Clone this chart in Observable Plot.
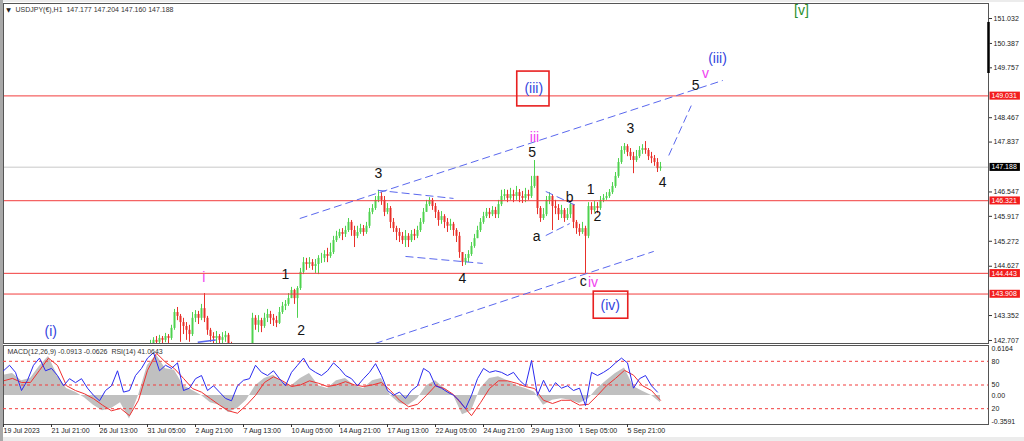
<!DOCTYPE html>
<html><head><meta charset="utf-8">
<script src="https://cdn.jsdelivr.net/npm/d3@7"></script>
<script src="https://cdn.jsdelivr.net/npm/@observablehq/plot@0.6"></script>
<style>
html,body{margin:0;padding:0;background:#e6e6e6;}
#wrap{position:relative;width:1024px;height:441px;overflow:hidden;background:#ececec;}
#leftstrip{position:absolute;left:0;top:0;width:3px;height:441px;background:#a8a8a8;}
#inner{position:absolute;left:3px;top:2px;width:1021px;height:435px;background:#fff;}
#main{position:absolute;left:0;top:0;}
#ind1{position:absolute;left:0;top:344px;}
#ind2{position:absolute;left:0;top:344px;}
</style></head><body>
<div id="wrap"><div id="leftstrip"></div><div id="inner"></div><div id="main"></div><div id="ind1"></div><div id="ind2"></div></div>
<script>
// ---------------- DATA ----------------
const chartTitle = "USDJPY(€),H1  147.177 147.204 147.160 147.188";
const indicatorTitle = "MACD(12,26,9) -0.0913 -0.0626  RSI(14) 41.0643";

// candles: hourly bar index of first candle, bars per candle
const startBar = 196, barStep = 4;
const firstOpen = 142.50;
const closes = [
 142.58,142.71,142.66,142.76,142.71,142.81,142.76,143.02,143.43,143.33,
 143.17,143.07,142.97,142.86,143.28,143.38,143.28,143.53,143.28,142.97,
 142.81,142.76,142.81,142.71,142.78,142.84,142.60,142.40,142.24,142.14,
 141.98,142.06,142.19,142.40,143.28,143.10,143.22,143.07,143.28,143.38,
 143.28,143.22,143.15,143.43,143.59,143.64,143.79,144.00,143.79,144.05,
 144.47,144.72,144.67,144.72,144.62,144.67,144.83,144.83,144.93,144.88,
 144.98,145.29,145.40,145.50,145.45,145.55,145.76,145.55,145.40,145.50,
 145.60,145.50,145.66,146.02,146.12,146.33,146.43,146.33,146.02,146.12,
 145.76,145.60,145.50,145.40,145.29,145.40,145.29,145.45,145.40,145.55,
 145.76,146.02,146.22,146.33,146.17,146.02,145.81,145.91,145.76,145.66,
 145.71,145.55,145.40,144.98,144.72,144.83,144.93,145.14,145.34,145.55,
 145.76,145.91,146.02,145.96,146.07,145.96,146.22,146.43,146.48,146.38,
 146.48,146.43,146.53,146.43,146.38,146.48,146.43,146.69,146.95,146.12,
 145.86,145.96,146.33,146.43,146.17,146.12,145.96,146.07,145.86,145.96,
 146.22,145.76,145.60,145.50,145.60,145.40,146.17,146.07,146.17,146.12,
 146.33,146.38,146.43,146.53,146.69,146.95,147.31,147.62,147.72,147.57,
 147.46,147.36,147.46,147.62,147.67,147.62,147.46,147.41,147.31,147.15,
 147.19];
const highs = [
 142.71,142.78,142.81,142.84,142.81,142.89,142.86,143.10,143.51,143.56,
 143.38,143.28,143.17,143.10,143.43,143.48,143.46,143.64,143.92,143.33,
 143.02,142.91,142.94,142.86,142.91,142.94,142.89,142.66,142.45,142.32,
 142.19,142.24,142.35,142.55,143.41,143.35,143.35,143.28,143.41,143.51,
 143.46,143.38,143.33,143.56,143.69,143.74,143.92,144.08,144.03,144.10,
 144.57,144.85,144.83,144.85,144.80,144.80,144.90,144.96,145.03,145.09,
 145.22,145.40,145.53,145.58,145.60,145.66,145.86,145.81,145.66,145.66,
 145.71,145.68,145.76,146.12,146.22,146.43,146.59,146.53,146.43,146.25,
 146.17,145.86,145.66,145.60,145.50,145.55,145.47,145.55,145.58,145.66,
 145.86,146.12,146.33,146.40,146.38,146.25,146.07,146.04,145.96,145.86,
 145.84,145.76,145.60,145.50,144.98,144.93,145.03,145.24,145.45,145.66,
 145.86,146.02,146.12,146.12,146.17,146.15,146.33,146.59,146.61,146.59,
 146.64,146.59,146.69,146.61,146.56,146.64,146.59,146.95,147.36,146.95,
 146.17,146.12,146.43,146.53,146.48,146.33,146.22,146.20,146.12,146.12,
 146.27,146.22,145.81,145.71,145.76,145.66,146.27,146.27,146.30,146.27,
 146.43,146.48,146.53,146.61,146.79,147.05,147.41,147.72,147.80,147.77,
 147.67,147.57,147.62,147.72,147.77,147.85,147.67,147.57,147.49,147.41,
 147.31];
const lows = [
 142.40,142.55,142.50,142.60,142.55,142.65,142.58,142.71,142.97,143.22,
 142.66,142.86,142.71,142.66,142.81,143.17,143.12,143.22,143.17,142.84,
 142.66,142.55,142.60,142.50,142.58,142.66,142.45,142.24,142.06,141.93,
 141.80,141.88,141.98,142.14,142.32,142.97,142.91,142.91,143.02,143.17,
 143.12,143.07,143.04,143.12,143.38,143.48,143.59,143.79,143.64,143.28,
 144.00,144.41,144.52,144.57,144.52,144.44,144.41,144.70,144.72,144.72,
 144.83,144.93,145.24,145.34,145.29,145.37,145.50,145.40,145.11,145.34,
 145.45,145.40,145.45,145.60,145.96,146.07,146.27,146.20,145.91,145.96,
 145.60,145.50,145.29,145.24,145.19,145.11,145.11,145.24,145.29,145.34,
 145.50,145.71,146.02,146.17,146.07,145.86,145.66,145.71,145.60,145.50,
 145.55,145.40,145.24,144.83,144.62,144.65,144.72,144.88,145.09,145.34,
 145.50,145.71,145.86,145.86,145.91,145.86,145.86,146.17,146.33,146.27,
 146.33,146.27,146.33,146.27,146.25,146.27,146.33,146.38,146.64,145.96,
 145.76,145.81,145.91,146.22,145.55,145.96,145.81,145.86,145.76,145.81,
 145.86,145.60,145.45,145.40,145.45,144.44,145.34,145.96,146.02,145.99,
 146.07,146.27,146.33,146.38,146.48,146.64,146.90,147.26,147.52,147.46,
 147.36,147.02,147.31,147.41,147.52,147.52,147.36,147.28,147.21,147.05,
 147.08];

// indicator samples
const macdStep = 12;
const macdMain = [
 0.25,0.27,0.18,0.21,0.36,0.48,0.25,0.085,0.04,-0.03,
 -0.12,-0.19,-0.16,-0.09,-0.29,0.00,0.37,0.50,0.33,0.31,
 0.12,0.06,0.00,-0.09,-0.12,-0.21,-0.16,-0.06,0.12,0.21,
 0.25,0.16,0.12,0.21,0.27,0.12,0.085,0.18,0.21,0.12,
 0.085,0.18,0.21,0.00,-0.10,-0.12,-0.04,0.12,0.18,0.085,
 0.00,-0.24,-0.19,0.085,0.21,0.23,0.18,0.12,0.085,0.04,
 -0.12,-0.06,-0.04,-0.06,-0.10,-0.04,0.085,0.18,0.27,0.34,
 0.11,0.05,0.00,-0.09];
const macdSignal = [
 0.18,0.21,0.16,0.16,0.31,0.46,0.37,0.12,0.06,0.02,
 -0.04,-0.12,-0.19,-0.16,-0.25,-0.06,0.31,0.52,0.41,0.33,
 0.21,0.085,0.04,-0.04,-0.12,-0.19,-0.22,-0.12,0.00,0.16,
 0.23,0.18,0.11,0.13,0.18,0.15,0.11,0.13,0.17,0.13,
 0.11,0.13,0.16,0.06,-0.06,-0.14,-0.11,0.00,0.12,0.085,
 0.01,-0.12,-0.25,-0.09,0.085,0.18,0.18,0.15,0.11,0.085,
 -0.06,-0.10,-0.06,-0.06,-0.12,-0.11,0.00,0.12,0.21,0.31,
 0.25,0.12,0.06,-0.06];
const rsiStep = 8;
const rsiValues = [
 68,75,66,43,56,75,84,68,71,62, 49,58,53,58,46,37,30,43,49,68,
 41,43,62,71,84,91,68,75,71,78, 43,46,58,62,43,49,41,33,30,49,
 56,58,75,66,62,68,58,49,66,75, 84,71,66,62,68,78,71,62,58,49,
 58,66,77,62,43,37,41,33,43,49, 71,66,49,46,41,37,30,20,37,58,
 71,66,68,66,62,66,56,49,81,37, 56,41,53,46,49,43,46,24,66,62,
 66,71,78,84,78,46,58,62,49,41];
const macdRange = [-0.3591, 0.6164];
const rsiLevels = [80, 50, 20];

// axes
const timeTickBars = [0,64,128,192,256,320,384,448,512,576,640,704,768,832];
const timeTickLabels = ["19 Jul 2023","21 Jul 21:00","26 Jul 13:00","31 Jul 05:00","2 Aug 21:00","7 Aug 13:00","10 Aug 05:00","14 Aug 21:00","17 Aug 13:00","22 Aug 05:00","24 Aug 21:00","29 Aug 13:00","1 Sep 05:00","5 Sep 21:00"];
const priceTicks = [151.032,150.387,149.757,148.467,147.837,146.547,145.917,145.272,144.627,143.352,142.707];
const redLevels = [149.031, 146.321, 144.443, 143.908];
const lastPrice = 147.188;
const shiftMarker = [150.93, 149.61];

// wave annotations (bar, price)
const blackLabels = [
 {text:"1",bar:376,price:144.41},{text:"2",bar:397,price:142.97},
 {text:"3",bar:500,price:147.02},{text:"4",bar:612,price:144.31},
 {text:"5",bar:705,price:147.57},{text:"a",bar:711,price:145.40},
 {text:"b",bar:755,price:146.40},{text:"c",bar:773,price:144.23},
 {text:"1",bar:783,price:146.61},{text:"2",bar:792,price:145.91},
 {text:"3",bar:836,price:148.19},{text:"4",bar:879,price:146.79},
 {text:"5",bar:923,price:149.30}];
const blueLabels = [
 {text:"(i)",bar:63,price:142.94},{text:"(iii)",bar:952,price:150.00},
 {text:"(iii)",bar:707,price:149.22},{text:"(iv)",bar:809,price:143.61}];
const magentaLabels = [
 {text:"i",bar:267,price:144.34},{text:"iii",bar:708,price:147.96},
 {text:"iv",bar:786,price:144.21},{text:"v",bar:936,price:149.62}];
const greenLabels = [{text:"[v]",bar:1064,price:151.24}];
const labelBoxes = [
 {x1:685,x2:728,y1:149.66,y2:148.76},
 {x1:787,x2:833,y1:143.97,y2:143.27}];
const dashedLines = [
 {x1:395,y1:145.86,x2:959,y2:149.43},
 {x1:480,y1:142.53,x2:867,y2:145.01},
 {x1:499,y1:146.59,x2:600,y2:146.38},
 {x1:536,y1:144.88,x2:639,y2:144.70},
 {x1:723,y1:146.56,x2:763,y2:146.20},
 {x1:723,y1:145.42,x2:755,y2:145.73},
 {x1:887,y1:147.49,x2:917,y2:148.78}];
const solidLines = [{x1:259,y1:142.66,x2:283,y2:142.72}];

// ---------------- BUILD ----------------
const FONT = "Liberation Sans, Arial, sans-serif";
const UP = "#4fd24f", DOWN = "#e8302a", BLUE = "#3344dd", MAG = "#f040f0", LINEBLUE = "#5a68ee";
const xDomain = [0, 1313.33];
const priceDomain = [142.629, 151.42];

const candles = closes.map((c, i) => ({
  bar: startBar + i * barStep,
  open: i ? closes[i - 1] : firstOpen,
  high: highs[i], low: lows[i], close: c
}));
const macd = macdMain.map((m, i) => ({bar: i * macdStep, main: m, signal: macdSignal[i]}));
const rsi = rsiValues.map((v, i) => ({bar: i * rsiStep, rsi: v}));

const baseStyle = {background: "transparent", fontFamily: FONT, fontSize: "7px", overflow: "visible", color: "#222"};

const main = Plot.plot({
  width: 1024, height: 345,
  marginLeft: 3, marginRight: 36, marginTop: 3, marginBottom: 2,
  style: baseStyle,
  x: {domain: xDomain, axis: null},
  y: {domain: priceDomain, axis: null},
  marks: [
    Plot.ruleY([lastPrice], {stroke: "#c8c8c8"}),
    Plot.ruleX(candles, {filter: d => d.close >= d.open, x: "bar", y1: "low", y2: "high", stroke: UP, strokeWidth: 1, clip: true}),
    Plot.ruleX(candles, {filter: d => d.close < d.open, x: "bar", y1: "low", y2: "high", stroke: DOWN, strokeWidth: 1, clip: true}),
    Plot.ruleX(candles, {filter: d => d.close >= d.open, x: "bar", y1: "open", y2: "close", stroke: UP, strokeWidth: 2, clip: true}),
    Plot.ruleX(candles, {filter: d => d.close < d.open, x: "bar", y1: "open", y2: "close", stroke: DOWN, strokeWidth: 2, clip: true}),
    Plot.ruleY(redLevels, {stroke: "#f23c3c", strokeWidth: 1}),
    Plot.link(dashedLines, {x1: "x1", y1: "y1", x2: "x2", y2: "y2", stroke: LINEBLUE, strokeDasharray: "8,4", strokeWidth: 1, clip: true}),
    Plot.link(solidLines, {x1: "x1", y1: "y1", x2: "x2", y2: "y2", stroke: LINEBLUE, strokeWidth: 1.5, clip: true}),
    Plot.rect(labelBoxes, {x1: "x1", x2: "x2", y1: "y1", y2: "y2", fill: "none", stroke: "#e82020", strokeWidth: 1.6}),
    Plot.text(blackLabels, {x: "bar", y: "price", text: "text", fill: "#141414", fontSize: 14}),
    Plot.text(blueLabels, {x: "bar", y: "price", text: "text", fill: BLUE, fontSize: 14}),
    Plot.text(magentaLabels, {x: "bar", y: "price", text: "text", fill: MAG, fontSize: 14}),
    Plot.text(greenLabels, {x: "bar", y: "price", text: "text", fill: "#2d8f2d", fontSize: 14}),
    Plot.frame({stroke: "#555"}),
    Plot.ruleX([xDomain[1]], {y1: shiftMarker[0], y2: shiftMarker[1], stroke: "#000", strokeWidth: 2.5}),
    Plot.axisY({anchor: "right", ticks: priceTicks, tickFormat: d => d.toFixed(3), tickSize: 3, tickPadding: 2, fontSize: 7, fill: "#222", stroke: "#333", label: null}),
    Plot.text(redLevels, {y: d => d, text: d => d.toFixed(3), frameAnchor: "right", dx: 3, textAnchor: "start", lineAnchor: "middle", fill: "white", fontSize: 7}),
    Plot.text([lastPrice], {y: d => d, text: d => d.toFixed(3), frameAnchor: "right", dx: 3, textAnchor: "start", lineAnchor: "middle", fill: "#fff", fontSize: 7}),
    Plot.text(["▼"], {frameAnchor: "top-left", dx: 5, dy: 6.5, text: d => d, textAnchor: "middle", lineAnchor: "middle", fontSize: 6, fontFamily: "DejaVu Sans", fill: "#222"}),
    Plot.text([chartTitle], {frameAnchor: "top-left", dx: 12, dy: 6.5, text: d => d, textAnchor: "start", lineAnchor: "middle", fontSize: 7, fill: "#333"})
  ]
});
document.getElementById("main").appendChild(main);

// red / black price tags behind their texts
main.querySelectorAll('g[aria-label="text"]').forEach(g => {
  const f = g.getAttribute("fill");
  if (f !== "white" && f !== "#fff") return;
  const bg = f === "white" ? "#f21d1d" : "#000";
  g.querySelectorAll("text").forEach(t => {
    const b = t.getBBox();
    const r = document.createElementNS("http://www.w3.org/2000/svg", "rect");
    r.setAttribute("x", b.x - 2);
    r.setAttribute("y", b.y - 0.5);
    r.setAttribute("width", b.width + 5);
    r.setAttribute("height", b.height + 1);
    r.setAttribute("fill", bg);
    if (t.getAttribute("transform")) r.setAttribute("transform", t.getAttribute("transform"));
    g.insertBefore(r, t);
  });
});

const ind1 = Plot.plot({
  width: 1024, height: 97,
  marginLeft: 3, marginRight: 36, marginTop: 1, marginBottom: 17,
  style: baseStyle,
  x: {domain: xDomain, axis: null},
  y: {domain: macdRange, axis: null},
  marks: [
    Plot.areaY(macd, {x: "bar", y1: 0, y2: "main", fill: "#c0c0c0"}),
    Plot.line(macd, {x: "bar", y: "signal", stroke: "#f03030", strokeWidth: 1}),
    Plot.frame({stroke: "#555"}),
    Plot.axisX({anchor: "bottom", ticks: timeTickBars, tickFormat: d => timeTickLabels[timeTickBars.indexOf(d)], tickSize: 3, tickPadding: 1, textAnchor: "start", fontSize: 7, fill: "#222", stroke: "#333", label: null}),
    Plot.text([macdRange[1]], {y: d => d, text: d => d.toFixed(4), frameAnchor: "right", dx: 3, dy: 1, textAnchor: "start", lineAnchor: "top", fill: "#222", fontSize: 7}),
    Plot.text([0], {y: d => d, text: d => d.toFixed(2), frameAnchor: "right", dx: 3, textAnchor: "start", lineAnchor: "middle", fill: "#222", fontSize: 7}),
    Plot.text([macdRange[0]], {y: d => d, text: d => d.toFixed(4), frameAnchor: "right", dx: 3, dy: -1, textAnchor: "start", lineAnchor: "bottom", fill: "#222", fontSize: 7})
  ]
});
document.getElementById("ind1").appendChild(ind1);

const ind2 = Plot.plot({
  width: 1024, height: 97,
  marginLeft: 3, marginRight: 36, marginTop: 1, marginBottom: 17,
  style: baseStyle,
  x: {domain: xDomain, axis: null},
  y: {domain: [0, 100], axis: null},
  marks: [
    Plot.ruleY(rsiLevels, {stroke: "#f23c3c", strokeDasharray: "3,3", strokeWidth: 1}),
    Plot.line(rsi, {x: "bar", y: "rsi", stroke: "#2a2af0", strokeWidth: 1}),
    Plot.text(rsiLevels, {y: d => d, text: d => String(d), frameAnchor: "right", dx: 3, textAnchor: "start", lineAnchor: "middle", fill: "#222", fontSize: 7}),
    Plot.text([indicatorTitle], {frameAnchor: "top-left", dx: 4, dy: 6, text: d => d, textAnchor: "start", lineAnchor: "middle", fontSize: 7, fill: "#333"})
  ]
});
document.getElementById("ind2").appendChild(ind2);
</script></body></html>
